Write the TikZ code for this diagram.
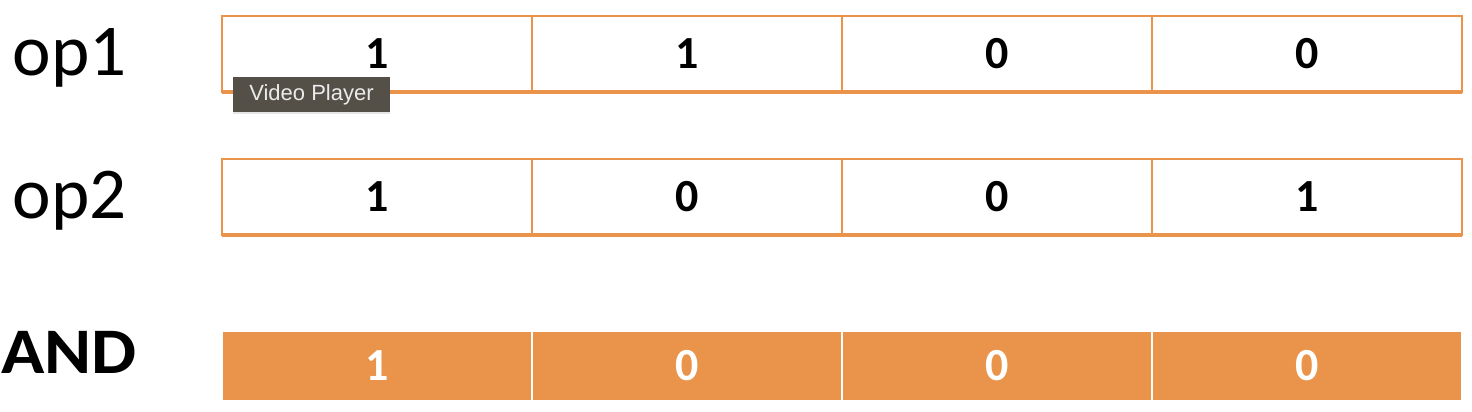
\documentclass[tikz,border=0pt]{standalone}
\usepackage{xcolor}
\usepackage{fontspec}
\setmainfont{Carlito}
\newfontfamily\tipfont{Liberation Sans}
\usepackage{tikz}
\usetikzlibrary{positioning,shadows}

\definecolor{bitorange}{RGB}{233,148,74}
\definecolor{tipgray}{RGB}{84,79,71}

\tikzset{
  cell/.style={draw=bitorange, line width=1.6pt, outer sep=0pt, inner sep=0pt,
    minimum width=310pt, minimum height=76pt,
    font=\bfseries\fontsize{46}{50}\selectfont},
  rescell/.style={fill=bitorange, draw=white, line width=2.5pt, outer sep=0pt,
    inner sep=0pt, minimum width=310pt, minimum height=70pt, text=white,
    font=\bfseries\fontsize{46}{50}\selectfont},
  oplabel/.style={anchor=base west, inner sep=0pt, font=\fontsize{73}{76}\selectfont},
  tip/.style={fill=tipgray, text=white!92!black, inner sep=0pt, outer sep=0pt,
    minimum width=157pt, minimum height=35pt, font=\tipfont\fontsize{22}{24}\selectfont,
    drop shadow={opacity=0.2, shadow xshift=0pt, shadow yshift=-2pt}}
}

\begin{document}
\begin{tikzpicture}[x=1pt,y=-1pt]
  \useasboundingbox (0,0) rectangle (1472,412);

  % operand 1
  \node[oplabel] (op1) at (12.5,75) {op1};
  \node[cell] (a1) at (377,54) {1};
  \node[cell, right=0pt of a1] (a2) {1};
  \node[cell, right=0pt of a2] (a3) {0};
  \node[cell, right=0pt of a3] (a4) {0};
  \draw[bitorange, line width=4pt] (a1.south west) -- (a4.south east);

  % operand 2
  \node[oplabel] (op2) at (12.5,218) {op2};
  \node[cell] (b1) at (377,197) {1};
  \node[cell, right=0pt of b1] (b2) {0};
  \node[cell, right=0pt of b2] (b3) {0};
  \node[cell, right=0pt of b3] (b4) {1};
  \draw[bitorange, line width=4pt] (b1.south west) -- (b4.south east);

  % result
  \node[oplabel, font=\bfseries\fontsize{65}{68}\selectfont] (and) at (1,373)
    {\scalebox{1.1}[1]{AND}};
  \node[rescell] (c1) at (377,366) {1};
  \node[rescell, right=0pt of c1] (c2) {0};
  \node[rescell, right=0pt of c2] (c3) {0};
  \node[rescell, right=0pt of c3] (c4) {0};

  \node[tip, anchor=north west] (video) at (233,77) {Video Player};
\end{tikzpicture}
\end{document}
